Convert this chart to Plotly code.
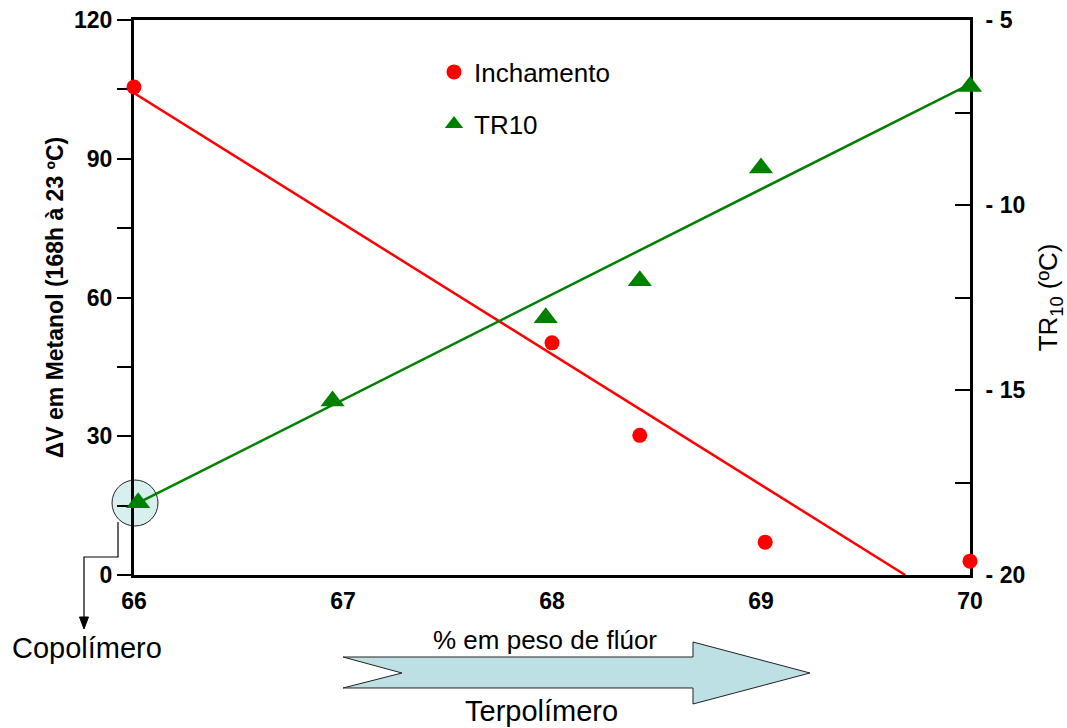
import plotly.graph_objects as go

# ---------------- data ----------------
fluor_inch = [66.0, 68.0, 68.42, 69.02, 70.0]
inchamento = [105.5, 50.2, 30.2, 7.1, 3.0]
fluor_tr = [66.02, 66.95, 67.97, 68.42, 69.0, 70.0]
tr10 = [-18.05, -15.3, -13.05, -12.05, -9.0, -6.8]
fit_inch_x = [66.0, 69.69]
fit_inch_y = [104.2, 0.0]
fit_tr_x = [66.02, 70.0]
fit_tr_y = [-18.05, -6.73]
x_ticks = [66, 67, 68, 69, 70]
y_ticks = [0, 15, 30, 45, 60, 75, 90, 105, 120]
y_ticktext = ["0", "", "30", "", "60", "", "90", "", "120"]
y2_ticks = [-20, -17.5, -15, -12.5, -10, -7.5, -5]
y2_ticktext = ["- 20", "", "- 15", "", "- 10", "", "- 5"]

# ---------------- geometry ----------------
W, H = 1067, 728
L, R, T, B = 134, 970, 20, 575
FONT = "Liberation Sans, Arial, Helvetica, sans-serif"


def P(x, y):
    return ((x - L) / (R - L), (B - y) / (B - T))


def path(points, close=True):
    s = ""
    for i, (x, y) in enumerate(points):
        px, py = P(x, y)
        s += ("M" if i == 0 else "L") + f"{px:.5f},{py:.5f} "
    return s + ("Z" if close else "")


fig = go.Figure()

fig.add_trace(go.Scatter(x=fit_inch_x, y=fit_inch_y, mode="lines",
                         line=dict(color="#ff0000", width=2.5),
                         showlegend=False, hoverinfo="skip", cliponaxis=True))
fig.add_trace(go.Scatter(x=fit_tr_x, y=fit_tr_y, mode="lines", yaxis="y2",
                         line=dict(color="#008000", width=2.5),
                         showlegend=False, hoverinfo="skip"))
fig.add_trace(go.Scatter(x=fluor_inch, y=inchamento, mode="markers",
                         name="Inchamento", legend="legend",
                         marker=dict(symbol="circle", size=15, color="#ff0000"),
                         cliponaxis=False))
fig.add_trace(go.Scatter(x=fluor_tr, y=tr10, mode="markers", yaxis="y2",
                         name="TR10", legend="legend2",
                         marker=dict(symbol="triangle-up", size=21, color="#008000"),
                         cliponaxis=False))

cx0, cy0 = P(135, 503)
shapes = [
    # highlighted circle around the copolymer point
    dict(type="circle", xref="paper", yref="paper", xsizemode="pixel", ysizemode="pixel",
         xanchor=cx0, yanchor=cy0, x0=-23, x1=23, y0=-23, y1=23,
         fillcolor="rgba(200,232,232,0.7)", line=dict(color="#222222", width=1),
         layer="below"),
    # connector line
    dict(type="path", xref="paper", yref="paper",
         path=path([(118, 522), (118, 557), (84, 557), (84, 620)], close=False),
         line=dict(color="#000000", width=1.2), layer="above"),
    dict(type="path", xref="paper", yref="paper",
         path=path([(79.5, 617), (88.5, 617), (84, 629)]),
         fillcolor="#000000", line=dict(color="#000000", width=1), layer="above"),
    # big block arrow
    dict(type="path", xref="paper", yref="paper",
         path=path([(343, 657), (693, 657), (693, 642), (810, 673), (693, 704),
                    (693, 688), (343, 688), (402, 673)]),
         fillcolor="#bce0e3", line=dict(color="#222222", width=1), layer="above"),
]

annotations = []
for txt, (cx, cy), size in [("% em peso de flúor", (545, 640), 26),
                             ("Terpolímero", (541, 711), 29),
                             ("Copolímero", (87, 648), 29)]:
    ax_, ay_ = P(cx, cy)
    annotations.append(dict(text=txt, x=ax_, y=ay_, xref="paper", yref="paper",
                            xanchor="center", yanchor="middle", showarrow=False,
                            font=dict(family=FONT, size=size, color="#000000")))

tickfont = dict(family=FONT, size=23, color="#000000", weight="bold")

fig.update_layout(
    width=W, height=H,
    margin=dict(l=L, r=W - R, t=T, b=H - B, pad=0, autoexpand=False),
    paper_bgcolor="white", plot_bgcolor="rgba(0,0,0,0)",
    showlegend=True,
    xaxis=dict(range=[66, 70], tickvals=x_ticks, ticktext=[str(v) for v in x_ticks],
               showgrid=False, zeroline=False, showline=True, linecolor="#000000",
               linewidth=3, mirror=True, ticks="", ticklabelstandoff=3,
               tickfont=tickfont, layer="below traces", automargin=False),
    yaxis=dict(range=[0, 120], tickvals=y_ticks, ticktext=y_ticktext,
               showgrid=False, zeroline=False, showline=True, linecolor="#000000",
               linewidth=3, ticks="outside", ticklen=14, tickwidth=1.5,
               tickcolor="#000000", ticklabelstandoff=0, tickfont=tickfont,
               layer="below traces", automargin=False,
               title=dict(text="ΔV em Metanol (168h à 23 ºC)", standoff=4,
                          font=dict(family=FONT, size=23, color="#000000", weight="bold"))),
    yaxis2=dict(range=[-20, -5], tickvals=y2_ticks, ticktext=y2_ticktext,
                overlaying="y", side="right", anchor="x",
                showgrid=False, zeroline=False, showline=True, linecolor="#000000",
                linewidth=3, ticks="inside", ticklen=15, tickwidth=1.5,
                tickcolor="#000000", ticklabelstandoff=8, tickfont=tickfont,
                layer="below traces", automargin=False,
                title=dict(text="TR<sub>10</sub> (ºC)", standoff=15,
                           font=dict(family=FONT, size=26, color="#000000"))),
    legend=dict(x=P(434, 0)[0], y=P(0, 72)[1], xanchor="left", yanchor="middle",
                bgcolor="rgba(0,0,0,0)", borderwidth=0,
                font=dict(family=FONT, size=26, color="#000000")),
    legend2=dict(x=P(434, 0)[0], y=P(0, 124)[1], xanchor="left", yanchor="middle",
                 bgcolor="rgba(0,0,0,0)", borderwidth=0,
                 font=dict(family=FONT, size=26, color="#000000")),
    shapes=shapes,
    annotations=annotations,
)

fig.write_html("out.html")
